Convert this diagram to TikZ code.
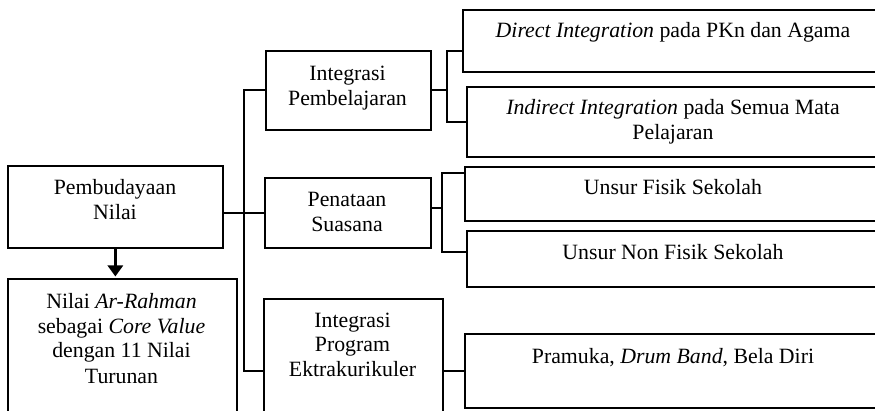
\documentclass[tikz,border=0pt]{standalone}
\usepackage{fontspec}
\setmainfont{Liberation Serif}
\usetikzlibrary{arrows.meta}
\begin{document}
\begin{tikzpicture}[x=1pt,y=-1pt,
  box/.style={draw, line width=1.7pt, inner sep=0pt, anchor=north west},
  txt/.style={font=\fontsize{21.8}{25}\selectfont, align=center, anchor=base, inner sep=0pt},
  link/.style={line width=1.7pt}]
\clip (0,0) rectangle (875,411);
\fill[white] (0,0) rectangle (875,411);

% boxes
\node[box, minimum width=215pt, minimum height=82pt]  (b1) at (7,165) {};
\node[box, minimum width=229pt, minimum height=160pt] (b2) at (7,278) {};
\node[box, minimum width=165pt, minimum height=79pt]  (i1) at (265,50) {};
\node[box, minimum width=166pt, minimum height=70pt]  (i2) at (264,177) {};
\node[box, minimum width=179pt, minimum height=144pt] (i3) at (263,298) {};
\node[box, minimum width=422pt, minimum height=62pt]  (r1) at (462,9) {};
\node[box, minimum width=418pt, minimum height=70pt]  (r2) at (466,86) {};
\node[box, minimum width=420pt, minimum height=54pt]  (r3) at (464,166) {};
\node[box, minimum width=418pt, minimum height=56pt]  (r4) at (466,230) {};
\node[box, minimum width=420pt, minimum height=74pt]  (r5) at (464,333) {};

% texts (anchored on the baseline of the last line)
\node[txt] (t1) at (115,220) {Pembudayaan\\Nilai};
\node[txt] (t2) at (121.5,383) {Nilai \textit{Ar-Rahman}\\sebagai \textit{Core Value}\\dengan 11 Nilai\\Turunan};
\node[txt] (t3) at (347.5,106) {Integrasi\\Pembelajaran};
\node[txt] (t4) at (347,232) {Penataan\\Suasana};
\node[txt] (t5) at (352.5,377) {Integrasi\\Program\\Ektrakurikuler};
\node[txt] (t6) at (673,38) {\textit{Direct Integration} pada PKn dan Agama};
\node[txt] (t7) at (673,140) {\textit{Indirect Integration} pada Semua Mata\\Pelajaran};
\node[txt] (t8) at (673,195) {Unsur Fisik Sekolah};
\node[txt] (t9) at (673,260) {Unsur Non Fisik Sekolah};
\node[txt] (t10) at (673,363) {Pramuka, \textit{Drum Band}, Bela Diri};

% arrow to core value
\draw[line width=3pt, -{Triangle[width=15pt,length=11pt]}, shorten >=1.5pt]
  (b1.south) -- (b1.south |- b2.north);

% trunk
\coordinate (tk) at (244,0);
\draw[link] (i2.west) -- (i2.west -| b1.east);
\draw[link] (i1.west) -| (tk |- i3.west) -- (i3.west);

% Integrasi Pembelajaran branch
\coordinate (s1) at (447,0);
\draw[link] (i1.east) -- (i1.east -| s1);
\draw[link] ([yshift=-10pt]r1.west) -| (s1 |- r2.west) -- (r2.west);

% Penataan Suasana branch
\coordinate (s2) at (442,0);
\path ([yshift=21pt]r3.west) coordinate (r3in)
      ([yshift=7pt]r4.west) coordinate (r4in);
\draw[link] ([yshift=5pt]i2.east) -- ([yshift=5pt]i2.east -| s2);
\draw[link] (r3in) -| (s2 |- r4in) -- (r4in);

% Ekstrakurikuler branch
\draw[link] (i3.east) -- (r5.west);
\end{tikzpicture}
\end{document}
